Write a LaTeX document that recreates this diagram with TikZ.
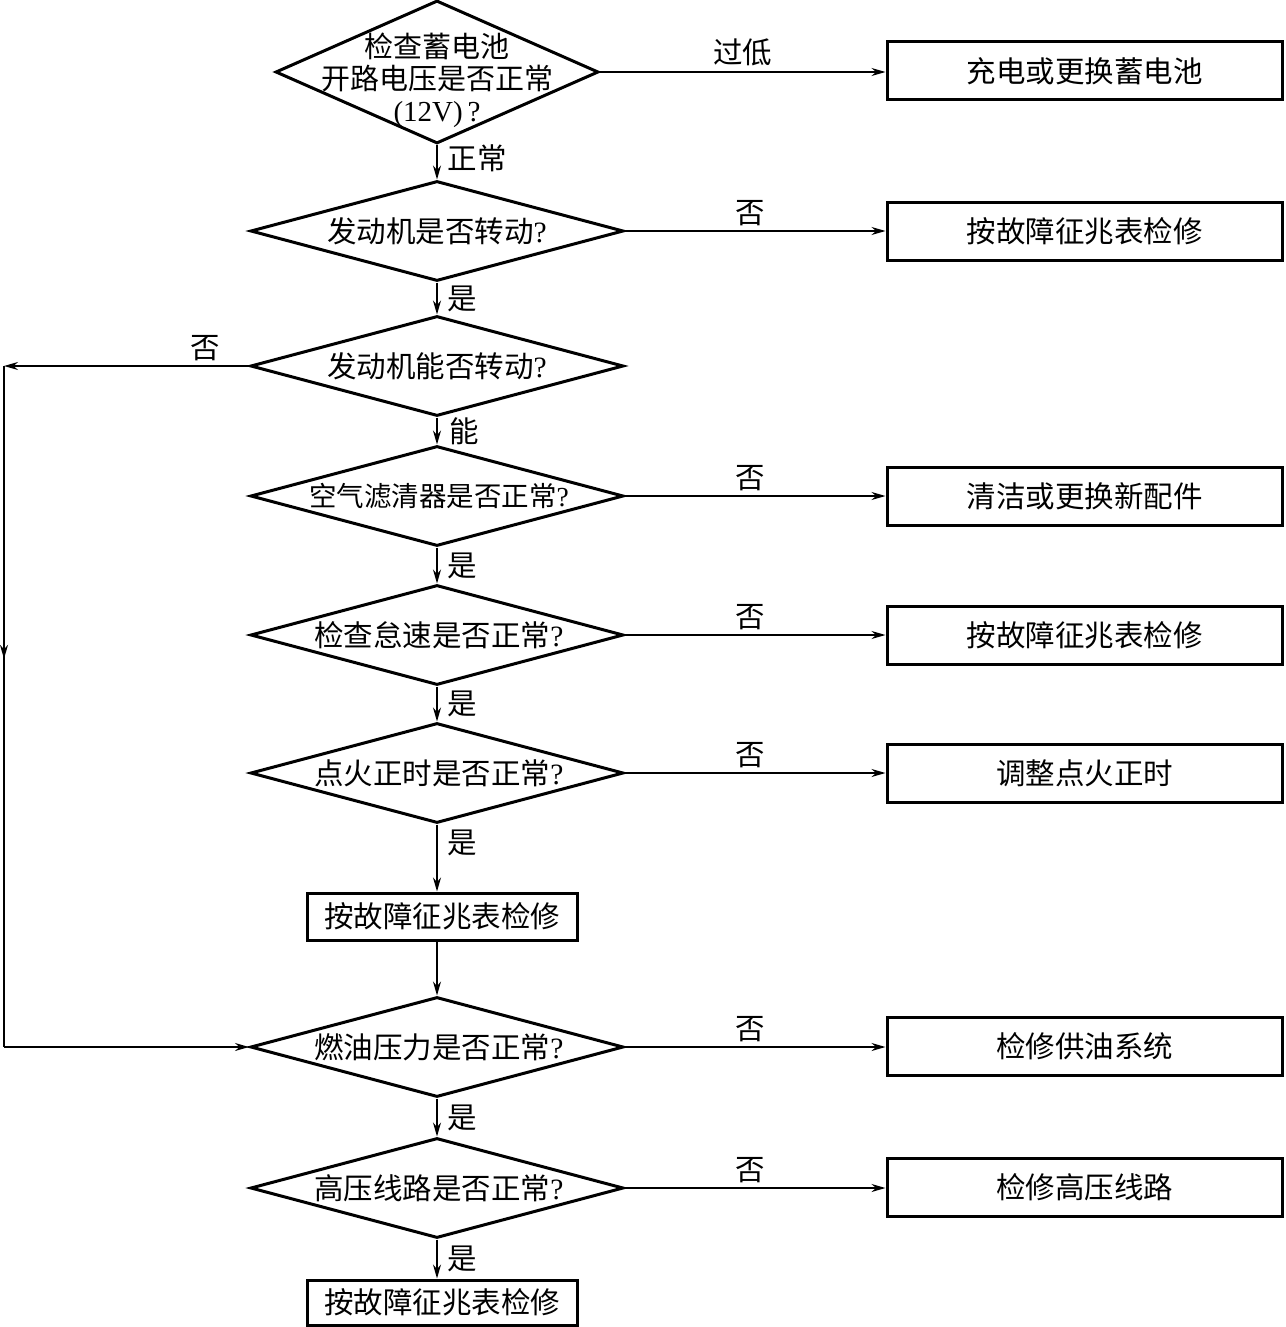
\documentclass[tikz,border=0pt]{standalone}
\usepackage{fontspec}
\setmainfont{Liberation Serif}
\newfontfamily\cjk{Noto Sans CJK SC}
\usetikzlibrary{shapes.geometric,arrows.meta,decorations.markings}
\begin{document}
\begin{tikzpicture}[x=1pt,y=-1pt,
  every node/.style={font=\cjk\fontsize{29.5}{32}\selectfont},
  dia/.style={shape=diamond,draw,line width=3pt,inner sep=0pt,minimum width=373pt,minimum height=100pt},
  rbox/.style={draw,line width=3pt,minimum width=395pt,minimum height=58pt,inner sep=0pt},
  mbox/.style={draw,line width=3pt,minimum width=270pt,minimum height=47pt,inner sep=0pt},
  conn/.style={line width=1.5pt,-{Stealth[length=14pt,width=8pt,inset=4.5pt]}},
  plain/.style={line width=1.5pt},
  lab/.style={inner sep=1pt}
]
\useasboundingbox (0,0) rectangle (1285,1327);
\newcommand{\qm}{{\rmfamily ?}}
% diamonds
\node[dia,minimum width=323pt,minimum height=143pt] (d1) at (437,72) {};
\node[align=center,font=\cjk\fontsize{29}{32}\selectfont] (t1) at (437,80) {检查蓄电池\\开路电压是否正常\\{\rmfamily (12V)\,?}};
\node[dia] (d2) at (437,231) {};
\node (t2) at (437,231) {发动机是否转动\qm};
\node[dia] (d3) at (437,366) {};
\node (t3) at (437,366) {发动机能否转动\qm};
\node[dia] (d4) at (437,496) {};
\node[font=\cjk\fontsize{27.5}{32}\selectfont] (t4) at (439,496) {空气滤清器是否正常\qm};
\node[dia] (d5) at (437,635) {};
\node (t5) at (439,635) {检查怠速是否正常\qm};
\node[dia] (d6) at (437,773) {};
\node (t6) at (439,773) {点火正时是否正常\qm};
\node[mbox] (m1) at (442,916.5) {按故障征兆表检修};
\node[dia] (d7) at (437,1047) {};
\node (t7) at (439,1047) {燃油压力是否正常\qm};
\node[dia] (d8) at (437,1188) {};
\node (t8) at (439,1188) {高压线路是否正常\qm};
\node[mbox,minimum height=45pt] (m2) at (442,1302.5) {按故障征兆表检修};
% right boxes
\node[rbox] (b1) at (1084.5,71) {充电或更换蓄电池};
\node[rbox] (b2) at (1084.5,231) {按故障征兆表检修};
\node[rbox] (b4) at (1084.5,496.5) {清洁或更换新配件};
\node[rbox] (b5) at (1084.5,635.5) {按故障征兆表检修};
\node[rbox] (b6) at (1084.5,773.5) {调整点火正时};
\node[rbox] (b7) at (1084.5,1046.5) {检修供油系统};
\node[rbox] (b8) at (1084.5,1187) {检修高压线路};
% horizontal connectors
\draw[conn] (d1.east) -- node[lab,above=4pt,pos=0.5]{过低} (d1.east -| b1.west);
\draw[conn] (d2.east) -- node[lab,above=3pt,pos=0.48]{否} (b2.west);
\draw[conn] (d4.east) -- node[lab,above=3pt,pos=0.48]{否} (d4.east -| b4.west);
\draw[conn] (d5.east) -- node[lab,above=3pt,pos=0.48]{否} (d5.east -| b5.west);
\draw[conn] (d6.east) -- node[lab,above=3pt,pos=0.48]{否} (d6.east -| b6.west);
\draw[conn] (d7.east) -- node[lab,above=3pt,pos=0.48]{否} (d7.east -| b7.west);
\draw[conn] (d8.east) -- node[lab,above=3pt,pos=0.48]{否} (d8.east -| b8.west);
% vertical connectors
\draw[conn] (d1.south) -- node[lab,right=9pt,pos=0.38]{正常} (d2.north);
\draw[conn] (d2.south) -- node[lab,right=9pt]{是} (d3.north);
\draw[conn] (d3.south) -- node[lab,right=11pt]{能} (d4.north);
\draw[conn] (d4.south) -- node[lab,right=9pt]{是} (d5.north);
\draw[conn] (d5.south) -- node[lab,right=9pt]{是} (d6.north);
\draw[conn] (d6.south) -- node[lab,right=9pt,pos=0.28]{是} (d6.south |- m1.north);
\draw[conn] (d6.south |- m1.south) -- (d7.north);
\draw[conn] (d7.south) -- node[lab,right=9pt]{是} (d8.north);
\draw[conn] (d8.south) -- node[lab,right=9pt]{是} (d8.south |- m2.north);
% left loop
\coordinate (cA) at (4,366);
\coordinate (cB) at (4,1047);
\draw[conn] (d3.west) -- node[lab,above=3pt,pos=0.18]{否} (cA);
\draw[plain,postaction={decorate,decoration={markings,mark=at position 0.43 with {\arrow{Stealth[length=14pt,width=8pt,inset=4.5pt]}}}}] (cA) -- (cB);
\draw[conn] (cB) -- (d7.west);
\end{tikzpicture}
\end{document}
